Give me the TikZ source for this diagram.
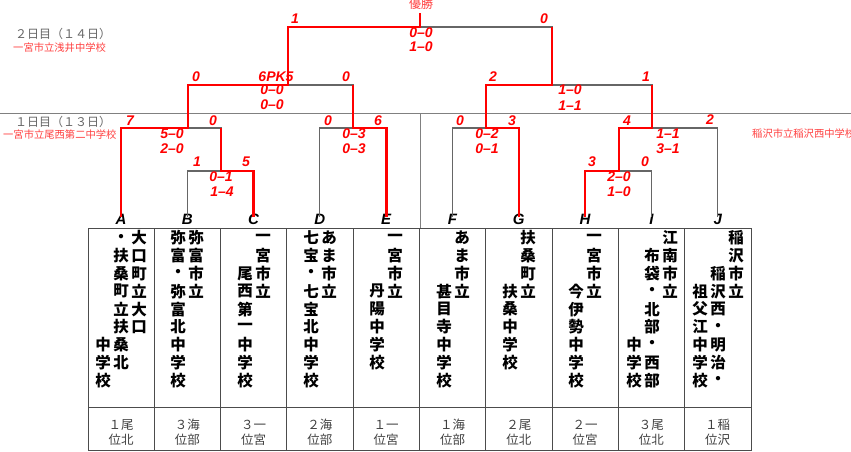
\documentclass[tikz,border=0pt]{standalone}
\usepackage{fontspec}
\setmainfont{Liberation Sans}
\newfontfamily\jp{Noto Sans CJK JP}
\usepackage{tikz}

% one vertical column of a team name: name, x, first row, characters
\newcommand{\tatecol}[4]{\foreach \ch [count=\k from #3] in {#4} {\node[kanji] (#1-\k) at (#2,{238+(\k-1)*17.8}) {\ch};}}

\begin{document}
\begin{tikzpicture}[x=1pt,y=-1pt,
  brk/.style={draw=black!60,line width=1.1pt},
  win/.style={draw=red,line width=2.6pt},
  sc/.style={text=red,font=\fontsize{14}{14}\selectfont\bfseries\itshape,inner sep=0pt,text height=0.72em,text depth=0pt},
  letter/.style={font=\fontsize{15}{15}\selectfont\bfseries\itshape,inner sep=0pt,text height=0.72em,text depth=0pt},
  kanji/.style={font=\jp\bfseries\fontsize{15.5}{15.5}\selectfont,inner sep=0pt},
  rank/.style={font=\jp\fontsize{12.5}{12.5}\selectfont,text=black!75,inner sep=0pt},
  note/.style={font=\jp\fontsize{10.3}{10.3}\selectfont,text=red!75,inner sep=0pt,anchor=west},
  day/.style={font=\jp\fontsize{12}{12}\selectfont,text=black!60,inner sep=0pt,anchor=west}]
\useasboundingbox (0,0) rectangle (851,452);

\draw[black!50,line width=0.8pt] (0,113)--(851,113);
\draw[black!50,line width=0.8pt] (420,113)--(420,228);

% table
\draw[black!70,line width=0.9pt] (88,228) rectangle (751,450);
\draw[black!70,line width=0.9pt] (88,407)--(751,407);
\foreach \i in {1,...,9} \draw[black!70,line width=0.9pt] ({88+66.3*\i},228)--({88+66.3*\i},450);

\foreach \t [count=\i from 0] in {A,B,C,D,E,F,G,H,I,J}
  \node[letter] (\t) at ({121+66.3*\i},221) {\t};

\foreach \a/\b [count=\i from 0] in {１尾/位北,３海/位部,３一/位宮,２海/位部,１一/位宮,１海/位部,２尾/位北,２一/位宮,３尾/位北,１稲/位沢}
  {\node[rank] (rk\i a) at ({121+66.3*\i},425) {\a};
   \node[rank] (rk\i b) at ({121+66.3*\i},440) {\b};}

% team names
\tatecol{A3}{139}{1}{大,口,町,立,大,口}
\tatecol{A2}{121}{1}{・,扶,桑,町,立,扶,桑,北}
\tatecol{A1}{103}{7}{中,学,校}
\tatecol{B2}{196}{1}{弥,富,市,立}
\tatecol{B1}{178}{1}{弥,富,・,弥,富,北,中,学,校}
\tatecol{C2}{263}{1}{一,宮,市,立}
\tatecol{C1}{245}{3}{尾,西,第,一,中,学,校}
\tatecol{D2}{329}{1}{あ,ま,市,立}
\tatecol{D1}{311}{1}{七,宝,・,七,宝,北,中,学,校}
\tatecol{E2}{395}{1}{一,宮,市,立}
\tatecol{E1}{377}{4}{丹,陽,中,学,校}
\tatecol{F2}{462}{1}{あ,ま,市,立}
\tatecol{F1}{444}{4}{甚,目,寺,中,学,校}
\tatecol{G2}{528}{1}{扶,桑,町,立}
\tatecol{G1}{510}{4}{扶,桑,中,学,校}
\tatecol{H2}{594}{1}{一,宮,市,立}
\tatecol{H1}{576}{4}{今,伊,勢,中,学,校}
\tatecol{I3}{670}{1}{江,南,市,立}
\tatecol{I2}{652}{2}{布,袋,・,北,部,・,西,部}
\tatecol{I1}{634}{7}{中,学,校}
\tatecol{J3}{736}{1}{稲,沢,市,立}
\tatecol{J2}{718}{3}{稲,沢,西,・,明,治,・}
\tatecol{J1}{700}{4}{祖,父,江,中,学,校}

% junctions
\coordinate (bc) at (221,171);
\coordinate (abc) at (188,128);
\coordinate (de) at (353,128);
\coordinate (l2) at (288,85);
\coordinate (fin) at (420,27);
\coordinate (top) at (420,13);
\coordinate (fg) at (486,128);
\coordinate (hi) at (619,171);
\coordinate (hij) at (652,128);
\coordinate (r2) at (552,85);

\draw[brk] (B.north) |- (bc) -| (C.north);
\draw[brk] (A.north) |- (abc) -- (bc |- abc) -- (bc);
\draw[brk] (D.north) |- (de) -| (E.north);
\draw[brk] (abc) |- (l2) -| (de);
\draw[brk] (l2) |- (fin) -| (r2);
\draw[brk] (F.north) |- (fg) -| (G.north);
\draw[brk] (H.north) |- (hi) -| (I.north);
\draw[brk] (hi) |- (hij) -| (J.north);
\draw[brk] (fg) |- (r2) -| (hij);

\draw[win] (C.north) |- (bc) -- (bc |- abc);
\draw[win] (A.north) |- (abc) |- (l2) |- (fin) -- (top);
\draw[win] (E.north) |- (de) -- (de |- l2);
\draw[win] (G.north) |- (fg) |- (r2) -- (r2 |- fin);
\draw[win] (H.north) |- (hi) |- (hij) -- (hij |- r2);

% scores
\node[sc] (fL) at (295,20) {1};
\node[sc] (fR) at (544,20) {0};
\node[sc] (f1) at (421,34) {0--0};
\node[sc] (f2) at (421,48) {1--0};
\node[sc] (lL) at (196,78) {0};
\node[sc] (lM) at (276,78) {6PK5};
\node[sc] (lR) at (346,78) {0};
\node[sc] (l1) at (272,91) {0--0};
\node[sc] (l2s) at (272,106) {0--0};
\node[sc] (rL) at (493,78) {2};
\node[sc] (rR) at (646,78) {1};
\node[sc] (r1) at (570,91) {1--0};
\node[sc] (r2s) at (570,107) {1--1};
\node[sc] (aL) at (130,122) {7};
\node[sc] (aR) at (213,122) {0};
\node[sc] (a1) at (172,135) {5--0};
\node[sc] (a2) at (172,150) {2--0};
\node[sc] (bL) at (197,163) {1};
\node[sc] (bR) at (246,163) {5};
\node[sc] (b1) at (221,178) {0--1};
\node[sc] (b2) at (222,193) {1--4};
\node[sc] (dL) at (328,122) {0};
\node[sc] (dR) at (378,122) {6};
\node[sc] (d1) at (354,135) {0--3};
\node[sc] (d2) at (354,150) {0--3};
\node[sc] (gL) at (460,122) {0};
\node[sc] (gR) at (512,122) {3};
\node[sc] (g1) at (487,135) {0--2};
\node[sc] (g2) at (487,150) {0--1};
\node[sc] (jL) at (627,122) {4};
\node[sc] (jR) at (710,121) {2};
\node[sc] (j1) at (668,135) {1--1};
\node[sc] (j2) at (668,150) {3--1};
\node[sc] (hL) at (592,163) {3};
\node[sc] (hR) at (645,163) {0};
\node[sc] (h1) at (619,178) {2--0};
\node[sc] (h2) at (619,193) {1--0};

% labels
\node[note,anchor=center] (champ) at (421,4) {\fontsize{12}{12}\selectfont 優勝};
\node[day] (day2) at (15,34) {２日目（１４日）};
\node[note] (ven2) at (13,48) {一宮市立浅井中学校};
\node[day] (day1) at (15,122) {１日目（１３日）};
\node[note] (ven1) at (3,135) {一宮市立尾西第二中学校};
\node[note] (ven3) at (752,134) {稲沢市立稲沢西中学校};
\end{tikzpicture}
\end{document}
